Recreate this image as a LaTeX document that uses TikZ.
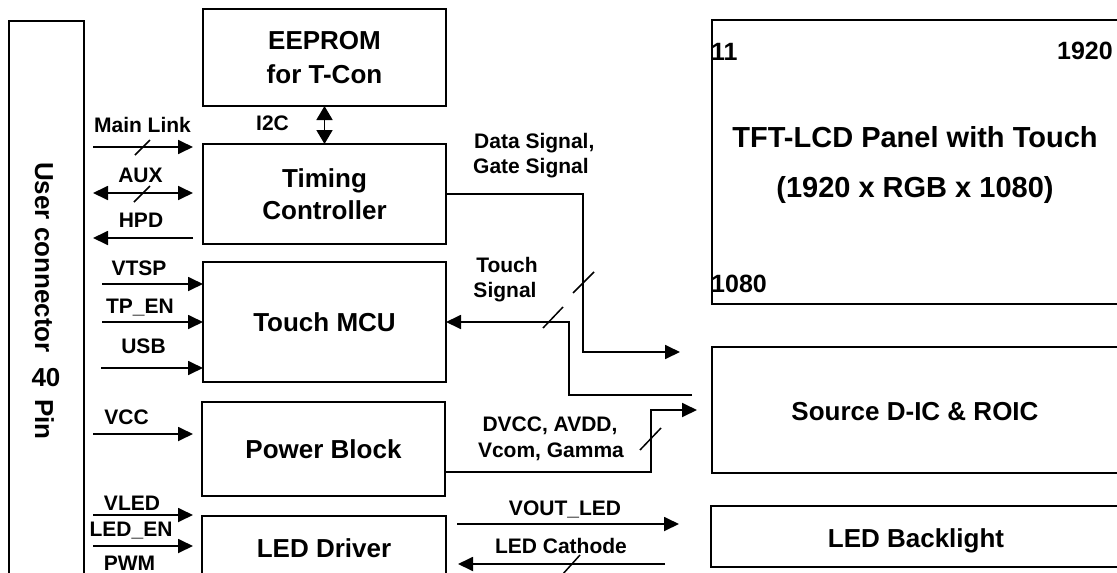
\documentclass[tikz,border=0pt]{standalone}
\usepackage{fontspec}
\setmainfont{Liberation Sans}
\usetikzlibrary{arrows.meta}
\begin{document}
\begin{tikzpicture}[x=1pt,y=-1pt,
  box/.style={draw, line width=1.8pt, inner sep=0pt, outer sep=0pt},
  wire/.style={line width=1.8pt},
  sig/.style={wire, -{Triangle[length=15pt,width=14pt]}},
  bisig/.style={wire, {Triangle[length=15pt,width=14pt]}-{Triangle[length=15pt,width=14pt]}},
  i2c/.style={wire, {Triangle[length=14pt,width=16pt]}-{Triangle[length=14pt,width=16pt]}},
  slash/.style={line width=1.5pt},
  lbl/.style={inner sep=0pt, anchor=base, font=\fontsize{21}{25}\selectfont\bfseries},
  btxt/.style={align=center, font=\fontsize{26}{34}\selectfont\bfseries},
  num/.style={inner sep=0pt, font=\fontsize{25}{30}\selectfont\bfseries},
  big/.style={inner sep=0pt, anchor=base, font=\fontsize{29}{34}\selectfont\bfseries},
  mid/.style={inner sep=0pt, anchor=base, font=\fontsize{26}{30}\selectfont\bfseries}
]
\useasboundingbox (0,0) rectangle (1117,573);
\clip (0,0) rectangle (1117,573);

% ---------------- boxes ----------------
\node[box, minimum width=75pt, minimum height=599pt] (user) at (46.5,320.5) {};
\node[box, btxt, minimum width=243pt, minimum height=97pt] (eeprom) at (324.5,57.5) {EEPROM\\for T-Con};
\node[box, btxt, font=\fontsize{26}{32}\selectfont\bfseries, minimum width=243pt, minimum height=100pt] (tcon) at (324.5,194) {Timing\\Controller};
\node[box, btxt, minimum width=243pt, minimum height=120pt] (mcu) at (324.5,322) {Touch MCU};
\node[box, btxt, minimum width=243pt, minimum height=94pt] (power) at (323.5,449) {Power Block};
\node[box, btxt, minimum width=244pt, minimum height=64pt] (led) at (324,548) {LED Driver};
\node[box, minimum width=413pt, minimum height=284pt] (panel) at (918.5,162) {};
\node[box, minimum width=413pt, minimum height=126pt] (source) at (918.5,410) {};
\node[box, minimum width=414pt, minimum height=61pt] (backlight) at (918,536.5) {};

% ---------------- user connector text ----------------
\node[mid, rotate=-90] (uc1) at (35,257.5) {User connector};
\node[mid] (uc2) at (46,386) {40};
\node[mid, rotate=-90] (uc3) at (35,419.5) {Pin};

% ---------------- panel texts ----------------
\node[num, anchor=base west] (p11) at (711,60) {11};
\node[num, anchor=base east] (p1920) at (1113,59) {1920};
\node[num, anchor=base west] (p1080) at (711,292) {1080};
\node[big] (ptitle) at (915,147) {TFT-LCD Panel with Touch};
\node[big] (pres) at (915,197) {(1920 x RGB x 1080)};
\node[mid] (srcl) at (915,420) {Source D-IC \& ROIC};
\node[mid] (bll) at (916,547) {LED Backlight};

% ---------------- left signal labels ----------------
\node[lbl] (lML) at (142.5,132) {Main Link};
\node[lbl] (lAUX) at (140.5,182) {AUX};
\node[lbl] (lHPD) at (141,227) {HPD};
\node[lbl] (lVTSP) at (139,275) {VTSP};
\node[lbl] (lTP) at (140,313) {TP\_EN};
\node[lbl] (lUSB) at (143.5,353) {USB};
\node[lbl] (lVCC) at (126.5,424) {VCC};
\node[lbl] (lVLED) at (132,510) {VLED};
\node[lbl] (lLEDEN) at (131,536) {LED\_EN};
\node[lbl] (lPWM) at (129.5,570) {PWM};
\node[lbl] (lI2C) at (272.5,130) {I2C};

% ---------------- middle labels ----------------
\node[lbl, anchor=base west] (lD1) at (474,148) {Data Signal,};
\node[lbl, anchor=base west] (lD2) at (473,173) {Gate Signal};
\node[lbl] (lT1) at (507,272) {Touch};
\node[lbl] (lT2) at (505,297) {Signal};
\node[lbl] (lP1) at (550,431) {DVCC, AVDD,};
\node[lbl] (lP2) at (551,457) {Vcom, Gamma};
\node[lbl] (lV) at (565,515) {VOUT\_LED};
\node[lbl] (lC) at (561,553) {LED Cathode};

% ---------------- coordinates ----------------
\coordinate (mlS) at (93,147);
\coordinate (auxS) at (93,193);
\coordinate (hpdS) at (93,238);
\coordinate (vtspS) at (102,284);
\coordinate (tpS) at (102,322);
\coordinate (usbS) at (101,368);
\coordinate (vccS) at (93,434);
\coordinate (vledS) at (93,515);
\coordinate (pwmS) at (93,546);
\coordinate (dK) at (583,352);
\coordinate (dEnd) at (680,352);
\coordinate (tS) at (692,395);
\coordinate (tK) at (569,395);
\coordinate (pK) at (651,472);
\coordinate (pEnd) at (697,410);
\coordinate (vA) at (457,524);
\coordinate (vB) at (679,524);
\coordinate (cA) at (665,564);
\coordinate (cB) at (458,564);

% ---------------- left connectors ----------------
\draw[sig, shorten >=10pt] (mlS) -- (mlS -| tcon.west);
\draw[bisig, shorten >=10pt] (auxS) -- (auxS -| tcon.west);
\draw[sig, shorten <=10pt] (hpdS -| tcon.west) -- (hpdS);
\draw[sig] (vtspS) -- (vtspS -| mcu.west);
\draw[sig] (tpS) -- (tpS -| mcu.west);
\draw[sig] (usbS) -- (usbS -| mcu.west);
\draw[sig, shorten >=9pt] (vccS) -- (vccS -| power.west);
\draw[sig, shorten >=9pt] (vledS) -- (vledS -| led.west);
\draw[sig, shorten >=9pt] (pwmS) -- (pwmS -| led.west);
\draw[i2c] (eeprom.south) -- (tcon.north);

% ---------------- right connectors ----------------
\draw[sig] (tcon.east) -| (dK) -- (dEnd);
\draw[sig] (tS) -- (tK) |- (mcu.east);
\draw[sig] (pK -| power.east) -- (pK) |- (pEnd);
\draw[sig] (vA) -- (vB);
\draw[sig] (cA) -- (cB);

% ---------------- bus slashes ----------------
\draw[slash] (135,155) -- (150,140);
\draw[slash] (134,202) -- (150,186);
\draw[slash] (573,293) -- (594,272);
\draw[slash] (543,328) -- (563,307);
\draw[slash] (640,450) -- (661,428);
\draw[slash] (562,575) -- (580,555);
\end{tikzpicture}
\end{document}
